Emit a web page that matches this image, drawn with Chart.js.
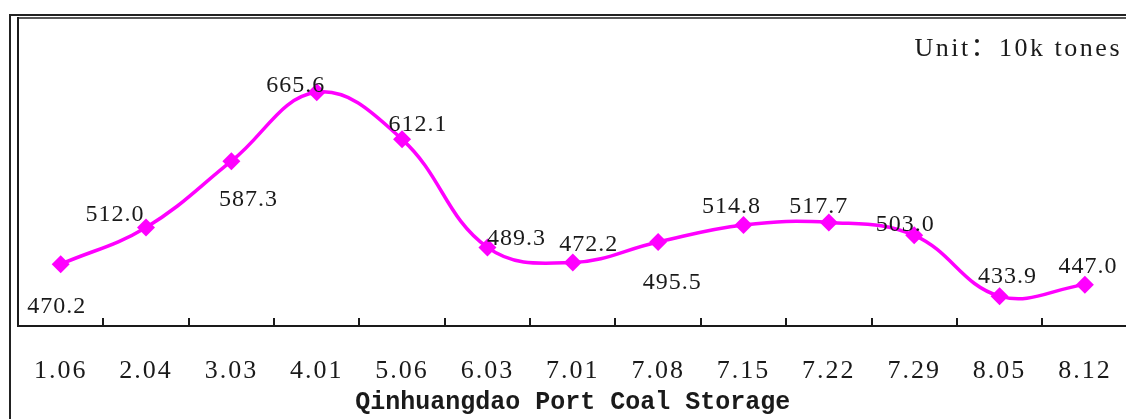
<!DOCTYPE html>
<html>
<head>
<meta charset="utf-8">
<script src="https://cdn.jsdelivr.net/npm/chart.js@4/dist/chart.umd.min.js"></script>
<style>
  html, body { margin: 0; padding: 0; background: #fff; overflow: hidden; }
  #wrap { position: absolute; left: 0; top: 0; width: 1138px; height: 419px; }
</style>
</head>
<body>
<div id="wrap"><canvas id="c"></canvas></div>
<script>
// Weekly coal stock at Qinhuangdao port (10k tonnes)
const categories = ['1.06', '2.04', '3.03', '4.01', '5.06', '6.03', '7.01', '7.08', '7.15', '7.22', '7.29', '8.05', '8.12'];
const storage = [470.2, 512.0, 587.3, 665.6, 612.1, 489.3, 472.2, 495.5, 514.8, 517.7, 503.0, 433.9, 447.0];
const unitText = 'Unit\uFF1A10k tones';
const titleText = 'Qinhuangdao Port Coal Storage';

// where each value label sits relative to its marker (dx, dy to the text baseline)
const labelOffsets = [[-4, 49], [-31, -6], [17, 45], [-21, 0], [16, -8], [29, -2], [16, -11],
                      [14, 47], [-12, -12], [-10, -9], [-9, -4], [8, -13], [3, -12]];

const serif = '"Liberation Serif", "Noto Sans CJK SC", serif';
const ink = '#1a1a1a';

const framePlugin = {
  id: 'frame',
  beforeDraw(chart) {
    const { ctx, chartArea: a } = chart;
    ctx.save();
    ctx.strokeStyle = '#222';
    ctx.lineWidth = 2;
    ctx.strokeRect(10, 15, chart.width + 20, chart.height + 20);
    ctx.lineWidth = 1.3;
    ctx.beginPath();
    ctx.moveTo(a.left, a.top);
    ctx.lineTo(chart.width, a.top);
    ctx.stroke();
    ctx.restore();
    // category labels are set with a little tracking
    ctx.letterSpacing = '2px';
  },
  afterDraw(chart) {
    const { ctx, chartArea: a, scales: { x } } = chart;
    ctx.save();
    // inward tick marks on the category boundaries
    const half = (x.getPixelForValue(1) - x.getPixelForValue(0)) / 2;
    ctx.strokeStyle = ink;
    ctx.lineWidth = 2;
    ctx.beginPath();
    for (let i = 0; i < categories.length; i++) {
      const px = Math.round(x.getPixelForValue(i) + half);
      ctx.moveTo(px, a.bottom);
      ctx.lineTo(px, a.bottom - 8);
    }
    ctx.stroke();
    ctx.fillStyle = ink;
    ctx.textBaseline = 'alphabetic';
    // chart title under the axis
    ctx.letterSpacing = '0px';
    ctx.font = 'bold 25px "Liberation Mono", monospace';
    ctx.textAlign = 'center';
    ctx.fillText(titleText, (a.left + a.right) / 2, 409);
    // unit note
    ctx.letterSpacing = '2.5px';
    ctx.font = '26px ' + serif;
    ctx.textAlign = 'right';
    ctx.fillText(unitText, 1122, 56);
    // value labels
    ctx.letterSpacing = '1px';
    ctx.font = '24px ' + serif;
    ctx.textAlign = 'center';
    const meta = chart.getDatasetMeta(0);
    meta.data.forEach((pt, i) => {
      const [dx, dy] = labelOffsets[i];
      ctx.fillText(storage[i].toFixed(1), pt.x + dx, pt.y + dy);
    });
    ctx.restore();
    ctx.letterSpacing = '0px';
  }
};

new Chart(document.getElementById('c'), {
  type: 'line',
  data: {
    labels: categories,
    datasets: [{
      data: storage,
      borderColor: '#ff00ff',
      backgroundColor: '#ff00ff',
      borderWidth: 3.5,
      tension: 0.4,
      pointStyle: 'rectRot',
      pointRadius: 9,
      pointBorderWidth: 0,
      pointHoverRadius: 9,
      clip: false
    }]
  },
  options: {
    responsive: true,
    maintainAspectRatio: false,
    animation: false,
    events: [],
    layout: { padding: { left: 18, top: 18, right: 1, bottom: 0 } },
    plugins: { legend: { display: false }, tooltip: { enabled: false } },
    scales: {
      x: {
        offset: true,
        grid: { display: false, drawTicks: false },
        border: { display: true, color: ink, width: 2 },
        ticks: { color: ink, font: { family: serif, size: 26 }, padding: 30, maxRotation: 0, autoSkip: false },
        title: { display: false },
        afterFit(scale) { scale.height = 93; }
      },
      y: {
        min: 400,
        max: 750,
        grid: { display: false, drawTicks: false },
        border: { display: true, color: ink, width: 2 },
        ticks: { display: false },
        afterFit(scale) { scale.width = 0; }
      }
    }
  },
  plugins: [framePlugin]
});
</script>
</body>
</html>
